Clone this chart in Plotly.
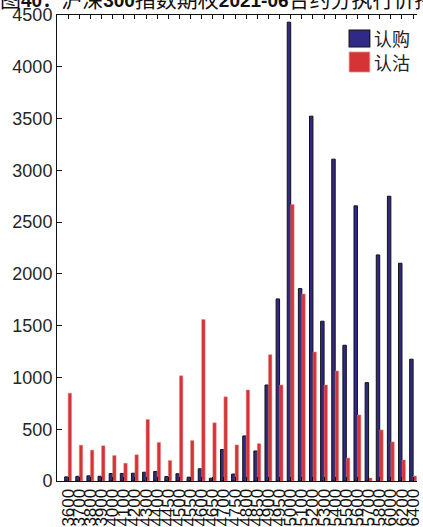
import plotly.graph_objects as go

# Strike prices (category labels)
strikes = ["3600", "3700", "3800", "3900", "4000", "4100", "4200", "4300",
           "4400", "4450", "4500", "4550", "4600", "4650", "4700", "4750",
           "4800", "4850", "4900", "4950", "5000", "5100", "5200", "5300",
           "5400", "5500", "5600", "5700", "5800", "6000", "6200", "6400"]

# Open interest by strike
call_oi = [40, 45, 50, 46, 72, 73, 75, 85,
           92, 43, 70, 37, 118, 27, 304, 67,
           435, 290, 927, 1758, 4431, 1858, 3523, 1543,
           3108, 1311, 2657, 950, 2183, 2750, 2103, 1176]
put_oi = [848, 346, 298, 340, 246, 172, 253, 594,
          372, 198, 1016, 391, 1560, 562, 813, 348,
          879, 361, 1220, 927, 2669, 1806, 1246, 927,
          1063, 222, 638, 29, 493, 377, 203, 48]

series_names = ["认购", "认沽"]
navy = "#302a86"
red = "#d43435"

def bold_num(s):
    return "<b><span style='font-size:19px'>" + s + "</span></b>"

title_text = ("图" + bold_num("40：") + "沪深" + bold_num("300") + "指数期权"
              + bold_num("2021-06") + "合约分执行价持仓量")

W, H = 423, 527
ML, MR, MT, MB = 57, 0, 15, 46

fig = go.Figure()
fig.add_trace(go.Bar(x=strikes, y=call_oi, name=series_names[0],
                     marker=dict(color=navy, line=dict(color="#111111", width=1))))
fig.add_trace(go.Bar(x=strikes, y=put_oi, name=series_names[1],
                     marker=dict(color=red, line=dict(color="#e98a8a", width=0.5))))

# pixel -> paper helpers for the legend box
pw, ph = W - ML - MR, H - MT - MB
def px(x):
    return (x - ML) / pw
def py(y):
    return (H - MB - y) / ph

shapes = [
    dict(type="rect", xref="paper", yref="paper",
         x0=px(354), x1=px(375), y0=py(47), y1=py(30),
         fillcolor=navy, line=dict(color="#111111", width=1.2)),
    dict(type="rect", xref="paper", yref="paper",
         x0=px(354), x1=px(375), y0=py(72), y1=py(52),
         fillcolor=red, line=dict(color="#e98a8a", width=0.8)),
]
annotations = [
    dict(xref="paper", yref="paper", x=px(377), y=py(38.5), text=series_names[0],
         showarrow=False, xanchor="left", yanchor="middle",
         font=dict(family="Noto Sans CJK SC", size=18, color="#222222")),
    dict(xref="paper", yref="paper", x=px(377), y=py(62), text=series_names[1],
         showarrow=False, xanchor="left", yanchor="middle",
         font=dict(family="Noto Sans CJK SC", size=18, color="#222222")),
]

fig.update_layout(
    width=W, height=H,
    margin=dict(l=ML, r=MR, t=MT, b=MB, pad=0),
    paper_bgcolor="white", plot_bgcolor="white",
    barmode="group", bargap=0.38, bargroupgap=0,
    showlegend=False,
    shapes=shapes, annotations=annotations,
    title=dict(text=title_text, x=0, xref="container", xanchor="left",
               y=1, yref="container", yanchor="middle",
               font=dict(family="Liberation Sans, Noto Sans CJK SC", size=21,
                         color="#111111")),
    font=dict(family="Liberation Sans, Arial", color="#262626"),
)

fig.update_xaxes(
    type="category", range=[-1.0, 31.35],
    tickmode="array", tickvals=strikes, ticktext=strikes,
    showline=True, linecolor="#111111", linewidth=1, mirror="ticks",
    ticks="inside", ticklen=4, tickcolor="#111111",
    tickangle=-90, tickfont=dict(size=17, color="#111111"),
    showgrid=False, zeroline=False,
)
fig.update_yaxes(
    range=[0, 4500], tickvals=list(range(0, 4501, 500)),
    showline=True, linecolor="#111111", linewidth=1, mirror=False,
    ticks="inside", ticklen=5, tickcolor="#111111",
    tickfont=dict(size=18, color="#262626"),
    showgrid=False, zeroline=False,
)

fig.write_html("out.html")
